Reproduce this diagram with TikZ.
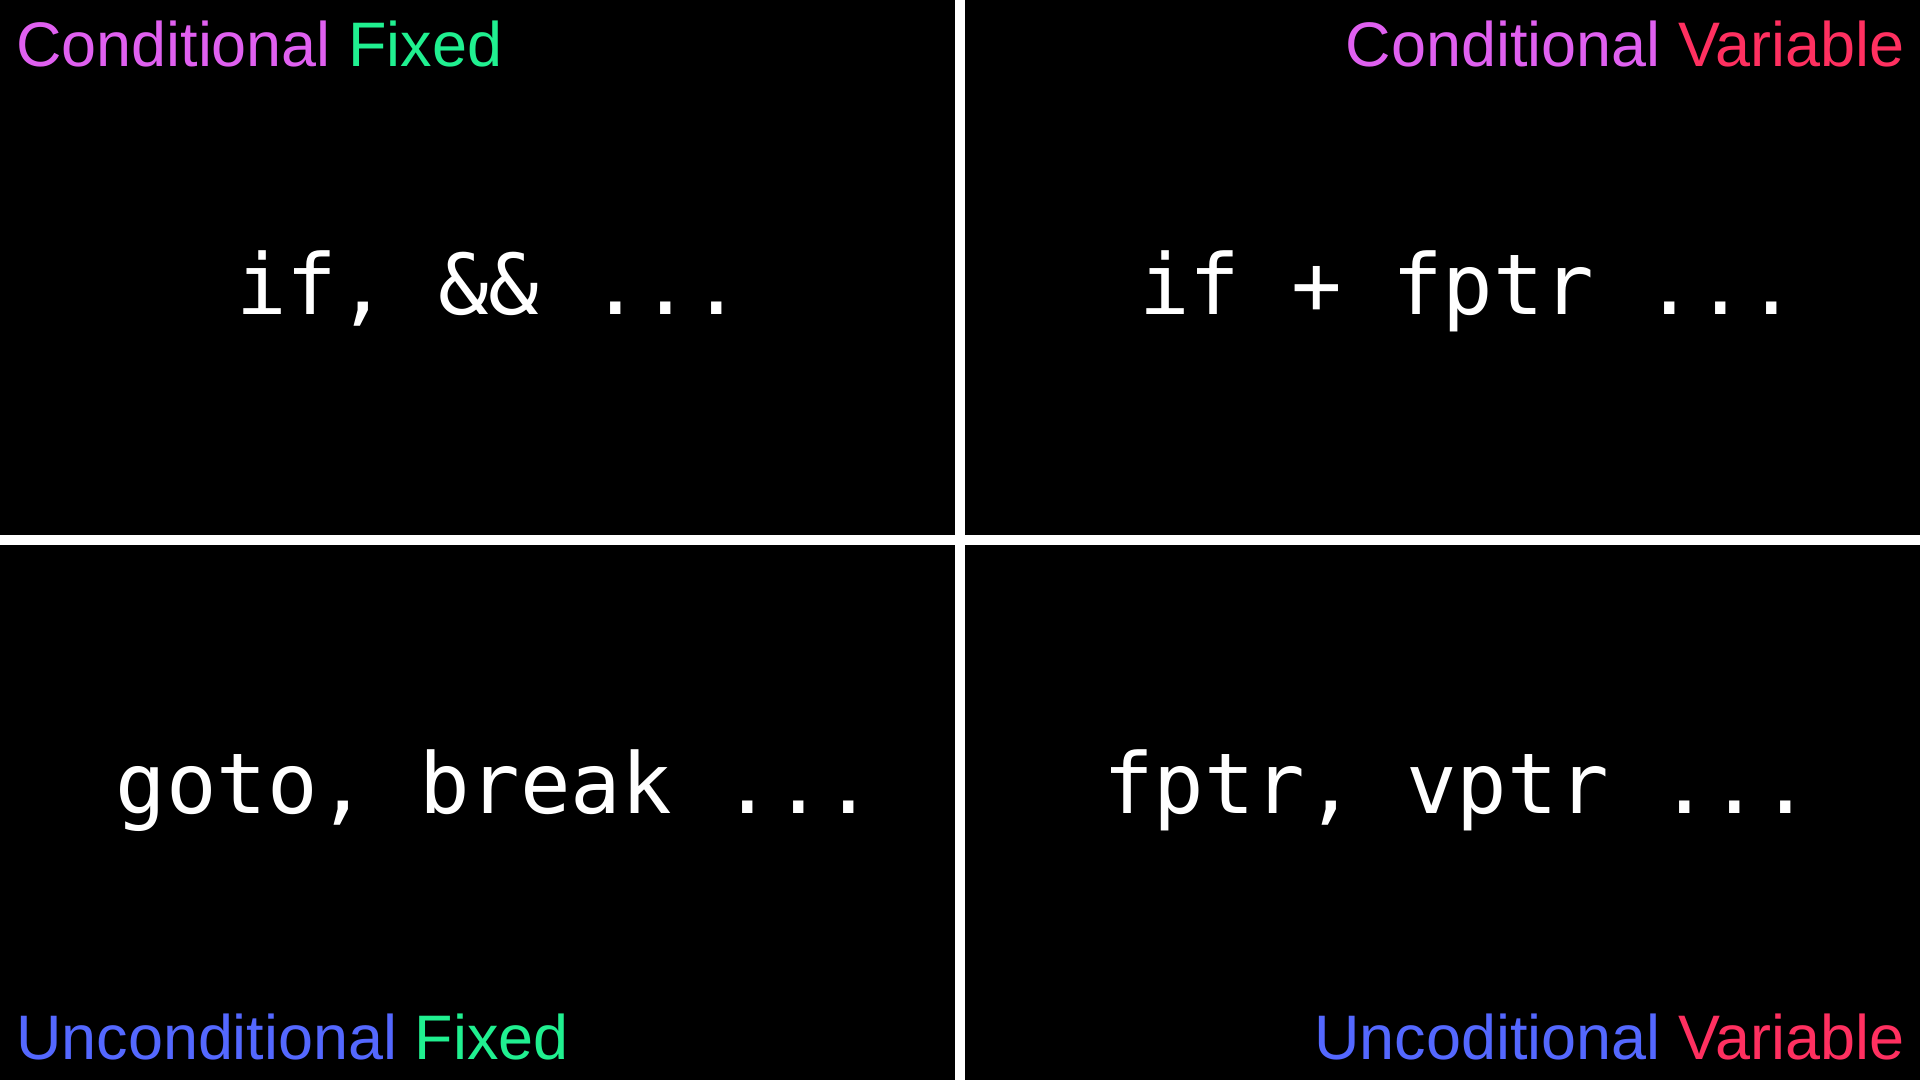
\documentclass[tikz,border=0pt]{standalone}
\usepackage{fontspec}
\setmainfont{Liberation Sans}
\setmonofont{DejaVu Sans Mono}
\usetikzlibrary{positioning,backgrounds}

\definecolor{condcol}{RGB}{224,96,240}
\definecolor{uncondcol}{RGB}{84,104,255}
\definecolor{fixedcol}{RGB}{32,240,144}
\definecolor{varcol}{RGB}{255,48,96}

\begin{document}
\begin{tikzpicture}[%
    cornerlabel/.style={
        inner sep=0pt,
        font=\fontsize{17.9}{20}\selectfont
        },
    codetext/.style={
        inner sep=0pt,
        anchor=base,
        text=white,
        font=\fontsize{23.9}{26}\selectfont\ttfamily
        },
    divider/.style={
        white,
        line width=0.1cm
        }
]

\useasboundingbox (0,0) rectangle (19.2,10.8);
\fill[black] (0,0) rectangle (19.2,10.8);

% quadrant dividers
\draw[divider] (9.6,0) -- (9.6,10.8);
\draw[divider] (0,5.4) -- (19.2,5.4);

% corner labels
\node[cornerlabel, anchor=base west] (cf) at (0.155,10.13)
    {\textcolor{condcol}{Conditional} \textcolor{fixedcol}{Fixed}};
\node[cornerlabel, anchor=base east] (cv) at (19.05,10.13)
    {\textcolor{condcol}{Conditional} \textcolor{varcol}{Variable}};
\node[cornerlabel, anchor=base west] (uf) at (0.155,0.2)
    {\textcolor{uncondcol}{Unconditional} \textcolor{fixedcol}{Fixed}};
\node[cornerlabel, anchor=base east] (uv) at (19.05,0.2)
    {\textcolor{uncondcol}{Uncoditional} \textcolor{varcol}{Variable}};

% examples
\node[codetext] (condfixed) at (4.89,7.65) {if, \&\& ...};
\node[codetext] (condvar) at (14.68,7.65) {if + fptr ...};
\node[codetext] (uncondfixed) at (4.95,2.66) {goto, break ...};
\node[codetext] (uncondvar) at (14.57,2.66) {fptr, vptr ...};

\end{tikzpicture}
\end{document}
